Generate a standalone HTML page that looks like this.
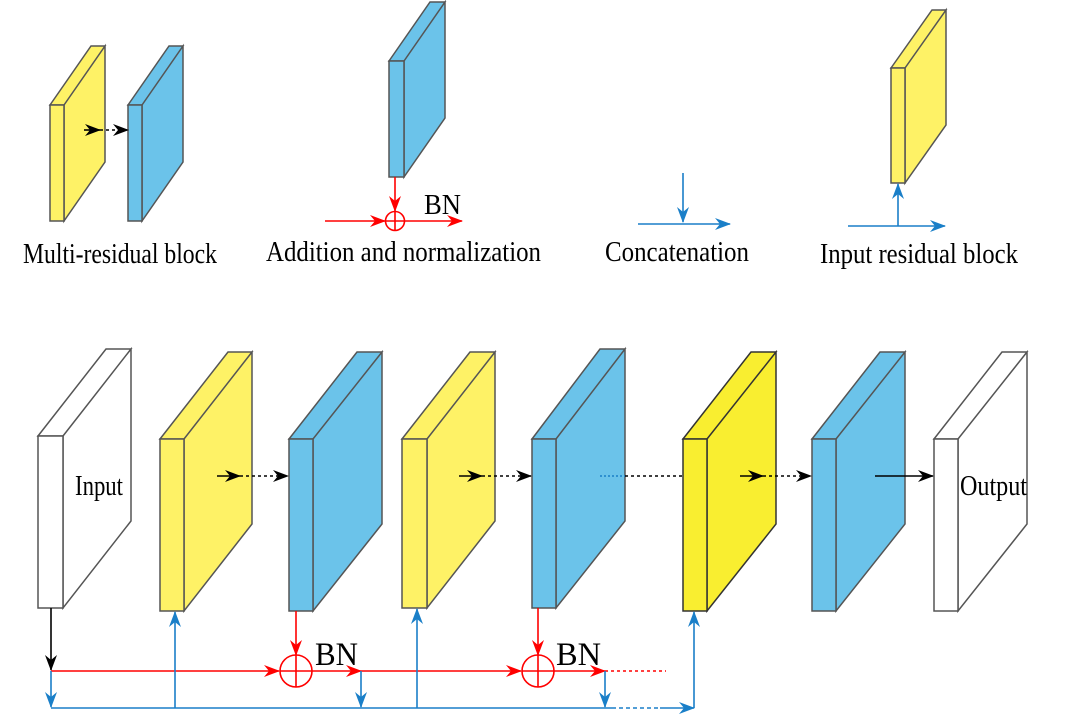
<!DOCTYPE html><html><head><style>body{margin:0;background:#fff}svg{display:block}text{font-family:"Liberation Serif",serif;fill:#000}</style></head><body>
<svg width="1080" height="715" viewBox="0 0 1080 715" xmlns="http://www.w3.org/2000/svg">
<defs>
<marker id="k" markerWidth="16" markerHeight="12" refX="15" refY="6" orient="auto" markerUnits="userSpaceOnUse"><path d="M0,0L16,6L0,12L5,6z" fill="#000"/></marker>
<marker id="r" markerWidth="16" markerHeight="12" refX="15" refY="6" orient="auto" markerUnits="userSpaceOnUse"><path d="M0,0L16,6L0,12L5,6z" fill="#f00"/></marker>
<marker id="b" markerWidth="16" markerHeight="12" refX="15" refY="6" orient="auto" markerUnits="userSpaceOnUse"><path d="M0,0L16,6L0,12L5,6z" fill="#1a7fc8"/></marker>
</defs>
<g stroke="#555" stroke-width="1.5" stroke-linejoin="miter">
<path d="M50,105L91,46L105,46L64,105z M64,105L105,46L105,162L64,221z" fill="#fef266"/><rect x="50" y="105" width="14" height="116" fill="#fef266"/>
<path d="M128,105L169,46L183,46L142,105z M142,105L183,46L183,162L142,221z" fill="#6bc3ea"/><rect x="128" y="105" width="14" height="116" fill="#6bc3ea"/>
<path d="M389,61L430,2L445,2L404,61z M404,61L445,2L445,118L404,177z" fill="#6bc3ea"/><rect x="389" y="61" width="15" height="116" fill="#6bc3ea"/>
<path d="M891,68L932,10L946,10L905,68z M905,68L946,10L946,125L905,183z" fill="#fef266"/><rect x="891" y="68" width="14" height="115" fill="#fef266"/>
</g>
<g stroke="#555" stroke-width="1.5">
<g fill="#fff"><path d="M38,436L106,349L131,349L63,436z M63,436L131,349L131,521L63,608z"/><rect x="38" y="436" width="25" height="172"/></g>
<g fill="#fef266"><path d="M160,439L228,352L252,352L184,439z M184,439L252,352L252,524L184,611z"/><rect x="160" y="439" width="24" height="172"/></g>
<g fill="#6bc3ea"><path d="M289,439L357,352L382,352L313,439z M313,439L382,352L382,524L313,611z"/><rect x="289" y="439" width="24" height="172"/></g>
<g fill="#fef266"><path d="M402,439L470,352L495,352L427,439z M427,439L495,352L495,521L427,608z"/><rect x="402" y="439" width="25" height="169"/></g>
<g fill="#6bc3ea"><path d="M532,439L600,349L625,349L556,439z M556,439L625,349L625,521L556,608z"/><rect x="532" y="439" width="24" height="169"/></g>
<g fill="#f9ee30" stroke="#333"><path d="M683,439L751,352L776,352L707,439z M707,439L776,352L776,524L707,611z"/><rect x="683" y="439" width="24" height="172"/></g>
<g fill="#6bc3ea"><path d="M812,439L880,352L905,352L836,439z M836,439L905,352L905,524L836,611z"/><rect x="812" y="439" width="24" height="172"/></g>
<g fill="#fff"><path d="M934,439L1002,352L1027,352L958,439z M958,439L1027,352L1027,524L958,611z"/><rect x="934" y="439" width="24" height="172"/></g>
</g>
<g fill="none" stroke-width="1.6">
<path d="M84,130L100,130" stroke="#000" marker-end="url(#k)"/><path d="M100,130L128,130" stroke="#000" stroke-dasharray="3,3" marker-end="url(#k)"/>
<path d="M395,177L395,211" stroke="#f00" marker-end="url(#r)"/>
<path d="M325,221L385,221" stroke="#f00" marker-end="url(#r)"/>
<path d="M405,221L462,221" stroke="#f00" marker-end="url(#r)"/>
<circle cx="395" cy="221" r="9.5" stroke="#f00"/><path d="M385.5,221H404.5M395,211.5V230.5" stroke="#f00"/>
<path d="M683,173L683,222" stroke="#1a7fc8" marker-end="url(#b)"/>
<path d="M638,224L730,224" stroke="#1a7fc8" marker-end="url(#b)"/>
<path d="M848,226L945,226" stroke="#1a7fc8" marker-end="url(#b)"/>
<path d="M898,226L898,184" stroke="#1a7fc8" marker-end="url(#b)"/>
</g>
<g font-size="28" lengthAdjust="spacingAndGlyphs">
<text x="424" y="214" textLength="37" lengthAdjust="spacingAndGlyphs">BN</text>
<text x="23" y="263" textLength="194" lengthAdjust="spacingAndGlyphs">Multi-residual block</text>
<text x="266" y="261" textLength="275" lengthAdjust="spacingAndGlyphs">Addition and normalization</text>
<text x="605" y="261" textLength="144" lengthAdjust="spacingAndGlyphs">Concatenation</text>
<text x="820" y="263" textLength="198" lengthAdjust="spacingAndGlyphs">Input residual block</text>
<text x="75" y="495" textLength="48" lengthAdjust="spacingAndGlyphs">Input</text>
<text x="960" y="495" textLength="67" lengthAdjust="spacingAndGlyphs">Output</text>
</g>
<g fill="none" stroke-width="1.6">
<path d="M217,476L240,476" stroke="#000" marker-end="url(#k)"/><path d="M240,476L288,476" stroke="#000" stroke-dasharray="3,3" marker-end="url(#k)"/>
<path d="M459,476L482,476" stroke="#000" marker-end="url(#k)"/><path d="M482,476L531,476" stroke="#000" stroke-dasharray="3,3" marker-end="url(#k)"/>
<path d="M740,476L763,476" stroke="#000" marker-end="url(#k)"/><path d="M763,476L811,476" stroke="#000" stroke-dasharray="3,3" marker-end="url(#k)"/>
<path d="M600,476L625,476" stroke="#1a7fc8" stroke-dasharray="2,2"/><path d="M625,476L683,476" stroke="#000" stroke-dasharray="3,3"/>
<path d="M875,476L933,476" stroke="#000" marker-end="url(#k)"/>
<path d="M51,608L51,670" stroke="#000" marker-end="url(#k)"/>
<path d="M51,671L279,671" stroke="#f00" marker-end="url(#r)"/>
<path d="M296,611L296,655" stroke="#f00" marker-end="url(#r)"/>
<circle cx="296" cy="671" r="16" stroke="#f00"/><path d="M280,671H312M296,655V687" stroke="#f00"/>
<path d="M312,671L361,671" stroke="#f00" marker-end="url(#r)"/>
<path d="M361,671L521,671" stroke="#f00" marker-end="url(#r)"/>
<path d="M538,608L538,655" stroke="#f00" marker-end="url(#r)"/>
<circle cx="538" cy="671" r="16" stroke="#f00"/><path d="M522,671H554M538,655V687" stroke="#f00"/>
<path d="M554,671L605,671" stroke="#f00" marker-end="url(#r)"/>
<path d="M605,671L666,671" stroke="#f00" stroke-dasharray="3,3"/>
<path d="M51,671L51,707" stroke="#1a7fc8" marker-end="url(#b)"/>
<path d="M361,671L361,707" stroke="#1a7fc8" marker-end="url(#b)"/>
<path d="M605,671L605,707" stroke="#1a7fc8" marker-end="url(#b)"/>
<path d="M51,708L612,708" stroke="#1a7fc8"/>
<path d="M612,708L660,708" stroke="#1a7fc8" stroke-dasharray="4,3"/>
<path d="M660,708L694,708" stroke="#1a7fc8" marker-end="url(#b)"/>
<path d="M175,708L175,612" stroke="#1a7fc8" marker-end="url(#b)"/>
<path d="M417,708L417,609" stroke="#1a7fc8" marker-end="url(#b)"/>
<path d="M694,708L694,612" stroke="#1a7fc8" marker-end="url(#b)"/>
</g>
<text x="315" y="665" font-size="33" textLength="43" lengthAdjust="spacingAndGlyphs">BN</text>
<text x="556" y="665" font-size="33" textLength="45" lengthAdjust="spacingAndGlyphs">BN</text>
</svg>
</body></html>
